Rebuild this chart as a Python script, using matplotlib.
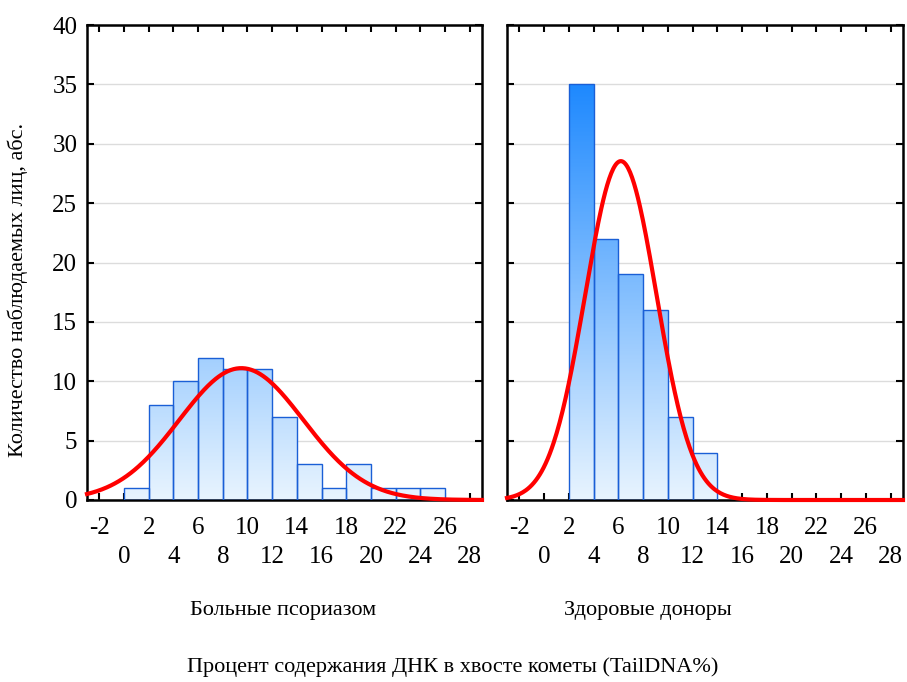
import numpy as np
import matplotlib
matplotlib.use("Agg")
import matplotlib.pyplot as plt
from matplotlib.colors import LinearSegmentedColormap

plt.rcParams['font.family'] = ['Liberation Serif', 'DejaVu Serif']

# histogram data (bin edges step 2)
bins_left = [0, 2, 4, 6, 8, 10, 12, 14, 16, 18, 20, 22, 24]
counts_left = [1, 8, 10, 12, 11, 11, 7, 3, 1, 3, 1, 1, 1]
bins_right = [2, 4, 6, 8, 10, 12]
counts_right = [35, 22, 19, 16, 7, 4]
bin_width = 2

# fitted normal curves
mean_left, sd_left = 9.5, 5.03
mean_right, sd_right = 6.2, 2.88

titles = ["Больные псориазом", "Здоровые доноры"]
ylabel = "Количество наблюдаемых лиц, абс."
xlabel = "Процент содержания ДНК в хвосте кометы (TailDNA%)"

row1 = [-2, 2, 6, 10, 14, 18, 22, 26]
row2 = [0, 4, 8, 12, 16, 20, 24, 28]

cmap = LinearSegmentedColormap.from_list("g", ["#e8f4fe", "#1e89ff"])
grad = np.linspace(0, 40, 400).reshape(-1, 1)

fig = plt.figure(figsize=(9.07, 6.82), dpi=100)
ax1 = fig.add_axes([87/907, 1-500/682, 395/907, 475/682])
ax2 = fig.add_axes([507/907, 1-500/682, 396/907, 475/682])

panels = [(ax1, bins_left, counts_left, mean_left, sd_left),
          (ax2, bins_right, counts_right, mean_right, sd_right)]

for i, (ax, b, c, m, s) in enumerate(panels):
    ax.yaxis.grid(True, color="#dcdcdc", lw=1)
    ax.set_axisbelow(True)
    bars = ax.bar(b, c, width=bin_width, align="edge", facecolor="none",
                  edgecolor="#1a5fd6", lw=1, zorder=3)
    for bar in bars:
        im = ax.imshow(grad, extent=(-3, 29, 0, 40), origin="lower", aspect="auto",
                       cmap=cmap, vmin=0, vmax=35, zorder=2)
        im.set_clip_path(bar)
    x = np.linspace(-3, 29, 400)
    n = sum(c)
    y = n * bin_width / (s * np.sqrt(2 * np.pi)) * np.exp(-(x - m) ** 2 / (2 * s ** 2))
    ax.plot(x, y, color="#ff0000", lw=3, zorder=4, clip_on=False)
    ax.set_xlim(-3, 29)
    ax.set_ylim(0, 40)

    ax.set_xticks(row1)
    ax.set_xticklabels([str(v) for v in row1])
    ax.set_xticks(row2, minor=True)
    ax.set_xticklabels([str(v) for v in row2], minor=True)
    ax.tick_params(axis="x", which="major", direction="in", length=5, width=1.5,
                   top=True, labelsize=18, pad=12)
    ax.tick_params(axis="x", which="minor", direction="in", length=5, width=1.5,
                   top=True, labelsize=18, pad=33)
    ax.set_yticks(range(0, 41, 5))
    ax.tick_params(axis="y", direction="in", length=5, width=1.5, right=True,
                   labelsize=18, pad=7, labelleft=(i == 0))
    for sp in ax.spines.values():
        sp.set_linewidth(1.8)

fig.text(283/907, 1-610/682, titles[0], ha="center", va="center", fontsize=16)
fig.text(648/907, 1-610/682, titles[1], ha="center", va="center", fontsize=16)
fig.text(453/907, 1-667/682, xlabel, ha="center", va="center", fontsize=16)
fig.text(18/907, 1-290/682, ylabel, ha="center", va="center", rotation=90, fontsize=16)

fig.savefig("out.png", dpi=100)
